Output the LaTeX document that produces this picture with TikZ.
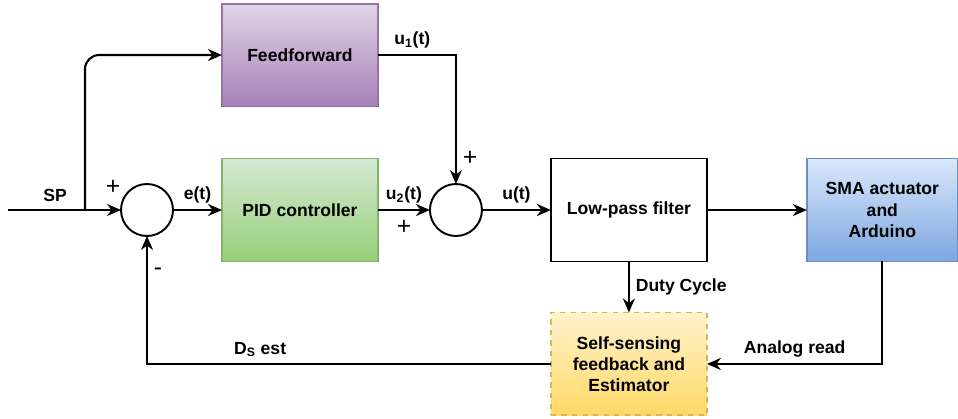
\documentclass[tikz,border=0pt]{standalone}
\usepackage{fontspec}
\setmainfont{Liberation Sans}
\usetikzlibrary{arrows.meta, positioning}

\definecolor{ffdraw}{HTML}{9673A6}
\definecolor{fftop}{HTML}{E1D5E7}
\definecolor{ffbot}{HTML}{A680B8}
\definecolor{piddraw}{HTML}{82B366}
\definecolor{pidtop}{HTML}{D5E8D4}
\definecolor{pidbot}{HTML}{97D077}
\definecolor{smadraw}{HTML}{6C8EBF}
\definecolor{smatop}{HTML}{DAE8FC}
\definecolor{smabot}{HTML}{7EA6E0}
\definecolor{estdraw}{HTML}{D6B656}
\definecolor{esttop}{HTML}{FFF2CC}
\definecolor{estbot}{HTML}{FFD966}

\begin{document}
\begin{tikzpicture}[
    x=0.02cm, y=-0.02cm,
    font=\bfseries,
    block/.style={
        rectangle, draw, line width=1.1pt, outer sep=0pt,
        minimum width=3.12cm, minimum height=2.06cm,
        align=center, inner sep=2pt
    },
    sumnode/.style={circle, draw, line width=1.1pt, outer sep=0pt, minimum size=1.04cm},
    arrow/.style={-{Stealth[length=2.8mm, width=2.4mm]}, line width=1.2pt},
    sign/.style={font=\fontsize{14}{14}\selectfont},
]
\useasboundingbox (0,0) rectangle (958,419);

\node[sumnode] (sum1) at (147,210) {};
\node[block, draw=piddraw, top color=pidtop, bottom color=pidbot, right=0.98cm of sum1] (pid) {PID controller};
\node[block, draw=ffdraw, top color=fftop, bottom color=ffbot, above=1.04cm of pid] (ff) {Feedforward};
\node[sumnode, right=1.04cm of pid] (sum2) {};
\node[block, right=1.38cm of sum2] (lpf) {Low-pass filter};
\node[block, draw=smadraw, top color=smatop, bottom color=smabot, minimum width=3.02cm, right=2cm of lpf] (sma) {SMA actuator\\and\\Arduino};
\node[block, draw=estdraw, dashed, top color=esttop, bottom color=estbot, below=1.02cm of lpf] (est) {Self-sensing\\feedback and\\Estimator};

\coordinate (in) at (8,210);
\coordinate (split) at (85,210);

\draw[arrow] (in) -- (sum1);
\node at (55,195) (splabel) {SP};
\draw[arrow, rounded corners=8pt] (split) |- (ff);
\draw[arrow] (sum1) -- node[above] {e(t)} (pid);
\draw[arrow] (ff) -| node[pos=0.22, above] {u\textsubscript{1}(t)} node[pos=0.9, right, sign] {+} (sum2);
\draw[arrow] (pid) -- node[above] {u\textsubscript{2}(t)} node[below=2pt, sign] {+} (sum2);
\draw[arrow] (sum2) -- node[above] {u(t)} (lpf);
\draw[arrow] (lpf) -- (sma);
\draw[arrow] (lpf) -- node[right] {Duty Cycle} (est);
\draw[arrow] (sma.south) |- node[pos=0.75, above] {Analog read} (est);
\draw[arrow] (est) -| node[pos=0.36, above] {D\textsubscript{S} est} (sum1);

\node[sign] at (113,187) (plus1) {+};
\node[sign] at (158,272) (minus1) {-};

\end{tikzpicture}
\end{document}
